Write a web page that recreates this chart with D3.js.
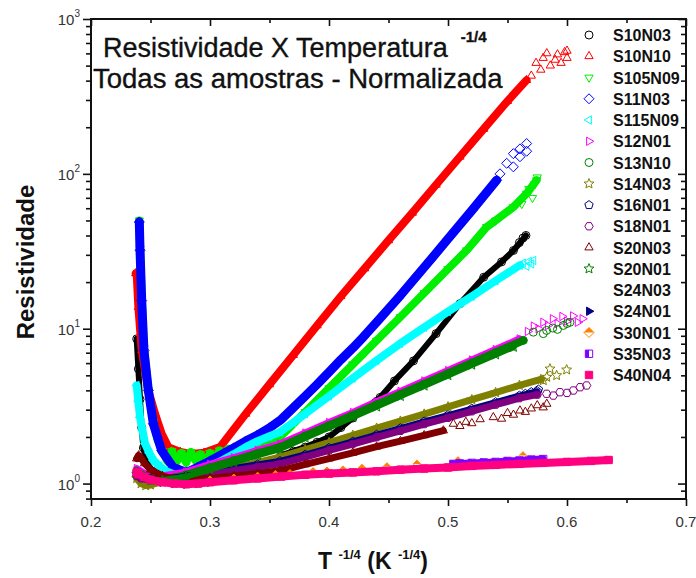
<!DOCTYPE html>
<html>
<head>
<meta charset="utf-8">
<script src="https://cdn.jsdelivr.net/npm/d3@7"></script>
<style>
  body { margin: 0; background: #fff; }
  svg { display: block; font-family: "Liberation Sans", Arial, sans-serif; }
</style>
</head>
<body>
<svg id="chart" width="696" height="578"></svg>
<script>
// ---- axis ticks ----
const xMajorTicks = [0.2, 0.3, 0.4, 0.5, 0.6, 0.7];
const xMinorTicks = [0.25, 0.35, 0.45, 0.55, 0.65];
const yMajorTicks = [1, 10, 100, 1000];
const yMinorTicks = [0.8, 0.9, 2, 3, 4, 5, 6, 7, 8, 9, 20, 30, 40, 50, 60, 70, 80, 90,
                     200, 300, 400, 500, 600, 700, 800, 900];

// ---- samples ----
const seriesNames = ["S10N03", "S10N10", "S105N09", "S11N03", "S115N09", "S12N01", "S13N10",
  "S14N03", "S16N01", "S18N01", "S20N03", "S20N01", "S24N03", "S24N01", "S30N01", "S35N03", "S40N04"];

// resistivity (normalised) vs T^-1/4 : continuous run of each sample
const s10n03 = [[0.2384,8.6],[0.2398,5.5],[0.2412,3.5],[0.2426,2.3],[0.244,1.7],[0.247,1.35],[0.252,1.2],
  [0.26,1.12],[0.27,1.08],[0.28,1.07],[0.29,1.08],[0.30,1.1],[0.31,1.13],[0.32,1.17],[0.33,1.22],[0.34,1.3],
  [0.35,1.4],[0.36,1.52],[0.37,1.62],[0.38,1.72],[0.39,1.85],[0.40,2.0],[0.41,2.3],[0.42,2.65],[0.43,3.05],
  [0.443,3.6],[0.455,4.6],[0.471,6.2],[0.49,9.3],[0.51,14.5],[0.53,21.5],[0.545,27],[0.555,32],[0.5655,40]];
const s10n10 = [[0.2376,22.8],[0.2384,22.7],[0.2398,13.8],[0.2426,7.24],[0.2482,3.99],[0.2538,2.82],
  [0.2594,2.1],[0.265,1.72],[0.275,1.6],[0.285,1.55],[0.295,1.58],[0.3084,1.72],[0.33,2.82],[0.35,4.37],
  [0.37,6.76],[0.39,10.5],[0.41,16.2],[0.43,24.5],[0.45,37.2],[0.47,56],[0.49,85],[0.51,129],[0.53,195],
  [0.55,295],[0.566,403]];
const s105n09 = [[0.2406,50],[0.2412,33],[0.2426,16],[0.2445,7.5],[0.2482,4.0],[0.2524,2.5],[0.256,1.9],
  [0.26,1.62],[0.264,1.4],[0.268,1.62],[0.272,1.38],[0.276,1.58],[0.28,1.36],[0.284,1.6],[0.288,1.4],
  [0.292,1.55],[0.296,1.34],[0.30,1.58],[0.304,1.42],[0.308,1.64],[0.312,1.46],[0.316,1.68],[0.32,1.52],
  [0.324,1.72],[0.328,1.6],[0.332,1.77],[0.337,1.7],[0.342,1.83],[0.347,1.86],[0.352,1.92],[0.3588,1.99],
  [0.37,2.43],[0.38,2.9],[0.40,4.13],[0.42,5.89],[0.44,8.39],[0.46,11.9],[0.48,17],[0.50,24.3],
  [0.5157,32.1],[0.5325,45.4],[0.54,50],[0.5549,61],[0.5661,74.6],[0.5745,91]];
const s11n03 = [[0.2406,48.9],[0.2412,32.1],[0.2426,15.2],[0.2445,7.24],[0.2482,3.99],[0.2524,2.43],
  [0.2594,1.63],[0.2692,1.27],[0.2804,1.18],[0.29,1.28],[0.30,1.4],[0.3112,1.56],[0.32,1.7],[0.33,1.88],
  [0.3392,2.04],[0.35,2.29],[0.36,2.6],[0.37,3.09],[0.38,3.67],[0.39,4.37],[0.40,5.25],[0.41,6.31],
  [0.42,7.5],[0.4288,8.83],[0.44,11.0],[0.46,16.4],[0.4849,27.6],[0.50,38],[0.52,58],[0.5409,91]];
const s115n09 = [[0.2384,4.3],[0.2398,3.4],[0.2412,2.68],[0.2433,2.2],[0.2454,1.81],[0.249,1.58],
  [0.2524,1.41],[0.2575,1.3],[0.2622,1.21],[0.272,1.13],[0.28,1.13],[0.29,1.19],[0.30,1.29],[0.31,1.41],
  [0.32,1.55],[0.33,1.72],[0.34,1.88],[0.35,2.02],[0.3588,2.15],[0.37,2.48],[0.38,2.82],[0.40,3.67],
  [0.42,4.79],[0.44,6.24],[0.46,8.04],[0.48,10.2],[0.50,12.9],[0.52,16.2],[0.54,20.4],[0.5605,25.7]];
const s12n01 = [[0.2384,1.25],[0.246,1.15],[0.26,1.12],[0.28,1.19],[0.30,1.33],[0.32,1.47],[0.34,1.64],
  [0.3588,1.8],[0.38,2.12],[0.40,2.48],[0.42,2.88],[0.44,3.38],[0.46,3.94],[0.48,4.6],[0.50,5.37],
  [0.52,6.28],[0.54,7.34],[0.56,8.6]];
const s13n10 = [[0.2384,1.2],[0.242,1.15],[0.246,1.1],[0.25,1.08],[0.26,1.07],[0.27,1.09],[0.28,1.14],
  [0.29,1.2],[0.30,1.27],[0.32,1.41],[0.34,1.57],[0.3588,1.72],[0.38,2.03],[0.40,2.37],[0.42,2.76],
  [0.44,3.23],[0.46,3.77],[0.48,4.4],[0.50,5.14],[0.52,6.01],[0.54,7.02],[0.5633,8.41]];
const s14n03 = [[0.2384,1.08],[0.242,1.0],[0.246,0.97],[0.25,0.98],[0.26,1.03],[0.28,1.1],[0.30,1.17],
  [0.32,1.26],[0.34,1.37],[0.3588,1.48],[0.38,1.66],[0.40,1.84],[0.42,2.05],[0.44,2.28],[0.46,2.53],
  [0.48,2.81],[0.50,3.13],[0.52,3.48],[0.54,3.87],[0.56,4.31],[0.578,4.7]];
const s16n01 = [[0.2384,1.15],[0.25,1.08],[0.26,1.08],[0.28,1.12],[0.30,1.19],[0.32,1.26],[0.34,1.33],
  [0.3588,1.4],[0.38,1.54],[0.40,1.7],[0.42,1.87],[0.44,2.07],[0.46,2.28],[0.48,2.52],[0.50,2.77],
  [0.52,3.05],[0.54,3.36],[0.56,3.7],[0.575,3.95]];
const s18n01 = [[0.2384,1.12],[0.242,1.08],[0.25,1.05],[0.26,1.04],[0.28,1.08],[0.30,1.14],[0.32,1.21],
  [0.34,1.28],[0.3588,1.34],[0.38,1.48],[0.40,1.64],[0.42,1.8],[0.44,1.99],[0.46,2.19],[0.48,2.42],
  [0.50,2.66],[0.52,2.93],[0.54,3.23],[0.56,3.56],[0.575,3.75]];
const s20n03 = [[0.2384,1.45],[0.24,1.52],[0.2425,1.45],[0.245,1.35],[0.25,1.23],[0.26,1.12],[0.27,1.07],
  [0.28,1.06],[0.30,1.08],[0.32,1.12],[0.34,1.16],[0.3588,1.21],[0.38,1.33],[0.40,1.45],[0.42,1.58],
  [0.44,1.73],[0.46,1.88],[0.48,2.05],[0.4961,2.2]];
const s20n01 = [[0.2384,1.15],[0.25,1.05],[0.26,1.05],[0.28,1.11],[0.30,1.23],[0.32,1.37],[0.34,1.52],
  [0.3588,1.67],[0.38,1.97],[0.40,2.3],[0.42,2.68],[0.44,3.13],[0.46,3.66],[0.48,4.27],[0.50,4.99],
  [0.52,5.83],[0.54,6.8],[0.555,7.6]];
const s24n03 = [];
const s24n01 = [[0.2384,1.18],[0.245,1.1],[0.25,1.06],[0.26,1.02],[0.27,1.0],[0.28,0.99],[0.29,1.0],[0.30,1.02]];
const s30n01 = [];
const s35n03 = [[0.5045,1.34],[0.51,1.35],[0.52,1.36],[0.53,1.37],[0.54,1.38],[0.55,1.4],[0.56,1.41],
  [0.57,1.43],[0.58,1.44]];
const s40n04 = [[0.2384,1.18],[0.24,1.15],[0.245,1.1],[0.25,1.06],[0.26,1.02],[0.27,1.0],[0.28,0.99],
  [0.29,1.0],[0.30,1.02],[0.32,1.05],[0.34,1.08],[0.36,1.11],[0.38,1.14],[0.40,1.16],[0.42,1.18],
  [0.44,1.2],[0.46,1.23],[0.48,1.25],[0.50,1.27],[0.52,1.3],[0.54,1.32],[0.56,1.34],[0.58,1.36],
  [0.60,1.38],[0.62,1.4],[0.635,1.42]];

// sparse points at the cold end of each run (plotted as symbols only)
const s10n03End = [[0.56,36],[0.563,38.5]];
const s10n10End = [[0.57,430],[0.574,520],[0.578,470],[0.58,560],[0.583,600],[0.586,500],[0.59,545],
  [0.592,590],[0.595,520],[0.598,610],[0.6,623],[0.6,560]];
const s105n09End = [[0.562,64],[0.568,80],[0.571,70],[0.573,86],[0.575,95]];
const s11n03End = [[0.5437,100],[0.5493,117],[0.5549,111],[0.5549,135],[0.5605,129],[0.5605,145],
  [0.5661,157],[0.5661,140]];
const s115n09End = [[0.563,26.5],[0.566,25.3],[0.568,27.2],[0.57,26.2],[0.5717,27.6]];
const s12n01End = [[0.567,9.6],[0.572,10.4],[0.576,10.0],[0.58,11.0],[0.584,10.5],[0.588,11.6],
  [0.592,10.8],[0.596,12.0],[0.6,11.2],[0.605,12.1],[0.609,11.0],[0.613,11.6]];
const s13n10End = [[0.5717,9.5],[0.5801,9.3],[0.5829,9.75],[0.588,10.1],[0.592,9.9],[0.5969,10.5],
  [0.6,10.8],[0.6025,11.0]];
const s14n03End = [[0.5801,4.63],[0.583,4.87],[0.5857,5.51],[0.5913,4.99],[0.5997,5.43]];
const s16n01End = [[0.565,3.8],[0.57,3.9],[0.576,4.05]];
const s18n01End = [[0.5829,3.8],[0.5885,3.7],[0.5941,3.89],[0.6,3.85],[0.6053,3.99],[0.611,4.19],[0.6165,4.3]];
const s20n03End = [[0.5045,2.43],[0.51,2.35],[0.515,2.5],[0.52,2.45],[0.527,2.6],[0.5381,2.68],[0.545,2.62],
  [0.55,2.85],[0.555,2.78],[0.5605,2.96],[0.565,2.9],[0.57,3.05],[0.575,3.2],[0.58,3.1],[0.583,3.27]];
const s30n01End = [[0.30,1.06],[0.32,1.09],[0.34,1.12],[0.355,1.15],[0.3672,1.166],[0.3866,1.2],
  [0.3983,1.21],[0.4118,1.23],[0.4277,1.26],[0.4487,1.29],[0.4739,1.34],[0.5084,1.41],[0.563,1.52]];

const seriesRuns = [s10n03, s10n10, s105n09, s11n03, s115n09, s12n01, s13n10, s14n03, s16n01, s18n01,
  s20n03, s20n01, s24n03, s24n01, s30n01, s35n03, s40n04];
const seriesEnds = [s10n03End, s10n10End, s105n09End, s11n03End, s115n09End, s12n01End, s13n10End,
  s14n03End, s16n01End, s18n01End, s20n03End, [], [], [], s30n01End, [], []];

// ---- styles ----
const seriesColors = ["#000000", "#ff0000", "#00ee00", "#0000ff", "#00ffff", "#ff00ff", "#007f00",
  "#808000", "#000080", "#800080", "#800000", "#008000", "#ffffff", "#000080", "#ff8000", "#8000ff", "#ff0080"];
const seriesSymbols = ["circle", "triUp", "triDown", "diamond", "triLeft", "triRight", "circle", "star",
  "pentagon", "hexagon", "triUp", "star", "none", "triRight", "diamond", "square", "square"];
const seriesFill = ["open", "open", "open", "open", "open", "open", "open", "open", "open", "open",
  "open", "open", "open", "solid", "half", "half", "solid"];
const bandWidth = [6, 8, 8, 9, 8, 7, 8, 7, 6, 7, 7, 6, 0, 6, 0, 7, 8];

// ---- layout ----
const svg = d3.select("#chart");
const plot = { left: 91, right: 686, top: 19, bottom: 499 };
const x = d3.scaleLinear().domain([0.2, 0.7]).range([plot.left, plot.right]);
const y = d3.scaleLog().domain([0.795, 1000]).range([plot.bottom, plot.top]);

svg.append("rect").attr("width", 696).attr("height", 578).attr("fill", "#fff");

// ---- symbol shapes ----
function polyPath(n, r, rot) {
  const pts = d3.range(n).map(i => {
    const a = rot + i * 2 * Math.PI / n;
    return [r * Math.cos(a), r * Math.sin(a)];
  });
  return "M" + pts.map(p => p[0].toFixed(2) + "," + p[1].toFixed(2)).join("L") + "Z";
}
function starPath(r) {
  const pts = d3.range(10).map(i => {
    const a = -Math.PI / 2 + i * Math.PI / 5;
    const rr = i % 2 ? r * 0.45 : r;
    return [rr * Math.cos(a), rr * Math.sin(a)];
  });
  return "M" + pts.map(p => p[0].toFixed(2) + "," + p[1].toFixed(2)).join("L") + "Z";
}
const shapes = {
  circle: r => d3.symbol(d3.symbolCircle, Math.PI * r * r)(),
  triUp: r => polyPath(3, r * 1.2, -Math.PI / 2),
  triDown: r => polyPath(3, r * 1.2, Math.PI / 2),
  triLeft: r => polyPath(3, r * 1.2, Math.PI),
  triRight: r => polyPath(3, r * 1.2, 0),
  diamond: r => polyPath(4, r * 1.25, -Math.PI / 2),
  square: r => polyPath(4, r * 1.3, Math.PI / 4),
  pentagon: r => polyPath(5, r * 1.1, -Math.PI / 2),
  hexagon: r => polyPath(6, r * 1.05, 0),
  star: r => starPath(r * 1.3)
};
const halfShapes = {
  diamond: r => { const a = r * 1.25; return `M${-a},0L0,${-a}L${a},0Z`; },
  square: r => { const s = r * 0.92; return `M${-s},${-s}L0,${-s}L0,${s}L${-s},${s}Z`; }
};

function drawMarker(g, i, cx, cy, r) {
  const type = seriesSymbols[i];
  if (type === "none") return;
  const col = seriesColors[i];
  const mode = seriesFill[i];
  const m = g.append("g").attr("transform", `translate(${cx},${cy})`);
  m.append("path").attr("d", shapes[type](r))
    .attr("fill", mode === "solid" ? col : "none")
    .attr("stroke", col).attr("stroke-width", 1);
  if (mode === "half") {
    m.append("path").attr("d", halfShapes[type](r)).attr("fill", col).attr("stroke", "none");
  }
}

// ---- data ----
svg.append("clipPath").attr("id", "plotClip").append("rect")
  .attr("x", plot.left).attr("y", plot.top)
  .attr("width", plot.right - plot.left).attr("height", plot.bottom - plot.top);
const dataLayer = svg.append("g").attr("clip-path", "url(#plotClip)");
const line = d3.line().x(d => x(d[0])).y(d => y(d[1]));

seriesNames.forEach((name, i) => {
  const g = dataLayer.append("g").attr("class", "series-" + name);
  const run = seriesRuns[i];
  if (run.length && bandWidth[i] > 0) {
    g.append("path").datum(run).attr("d", line)
      .attr("fill", "none").attr("stroke", seriesColors[i])
      .attr("stroke-width", bandWidth[i])
      .attr("stroke-linejoin", "round").attr("stroke-linecap", "round");
  }
  run.forEach(d => drawMarker(g, i, x(d[0]), y(d[1]), 4));
  seriesEnds[i].forEach(d => drawMarker(g, i, x(d[0]), y(d[1]), i === 14 ? 3 : 4));
});

// ---- axes ----
function styleAxis(sel) {
  sel.select(".domain").remove();
  sel.selectAll(".tick line").attr("stroke", "#111").attr("stroke-width", 1.6);
  sel.selectAll(".tick text").remove();
}
// bottom and left ticks point outward; top and right ticks point into the frame
const axisG = svg.append("g").attr("class", "axes");
axisG.append("g").attr("transform", `translate(0,${plot.bottom})`)
  .call(d3.axisBottom(x).tickValues(xMajorTicks).tickSize(7)).call(styleAxis);
axisG.append("g").attr("transform", `translate(0,${plot.bottom})`)
  .call(d3.axisBottom(x).tickValues(xMinorTicks).tickSize(4)).call(styleAxis);
axisG.append("g").attr("transform", `translate(0,${plot.top})`)
  .call(d3.axisTop(x).tickValues(xMajorTicks).tickSize(-7)).call(styleAxis);
axisG.append("g").attr("transform", `translate(0,${plot.top})`)
  .call(d3.axisTop(x).tickValues(xMinorTicks).tickSize(-4)).call(styleAxis);
axisG.append("g").attr("transform", `translate(${plot.left},0)`)
  .call(d3.axisLeft(y).tickValues(yMajorTicks).tickSize(8)).call(styleAxis);
axisG.append("g").attr("transform", `translate(${plot.left},0)`)
  .call(d3.axisLeft(y).tickValues(yMinorTicks).tickSize(5)).call(styleAxis);
axisG.append("g").attr("transform", `translate(${plot.right},0)`)
  .call(d3.axisRight(y).tickValues(yMajorTicks).tickSize(-8)).call(styleAxis);
axisG.append("g").attr("transform", `translate(${plot.right},0)`)
  .call(d3.axisRight(y).tickValues(yMinorTicks).tickSize(-5)).call(styleAxis);

svg.append("rect").attr("x", plot.left).attr("y", plot.top)
  .attr("width", plot.right - plot.left).attr("height", plot.bottom - plot.top)
  .attr("fill", "none").attr("stroke", "#111").attr("stroke-width", 2);

// tick labels
const xLab = svg.append("g").attr("font-size", 15).attr("fill", "#333").attr("text-anchor", "middle");
xMajorTicks.forEach(t => {
  xLab.append("text").attr("x", x(t)).attr("y", plot.bottom + 28).text(d3.format(".1f")(t));
});
const yLab = svg.append("g").attr("font-size", 15).attr("fill", "#333").attr("text-anchor", "end");
yMajorTicks.forEach(t => {
  const txt = yLab.append("text").attr("x", plot.left - 11).attr("y", y(t) + 6);
  txt.append("tspan").text("10");
  txt.append("tspan").attr("dy", -8).attr("font-size", 10).text(Math.round(Math.log10(t)));
});

// axis titles
svg.append("text")
  .attr("transform", `translate(34,262) rotate(-90)`)
  .attr("text-anchor", "middle").attr("font-size", 24).attr("font-weight", "bold").attr("fill", "#111")
  .text("Resistividade");
const xt = svg.append("text").attr("x", 373).attr("y", 569).attr("text-anchor", "middle")
  .attr("font-size", 23).attr("font-weight", "bold").attr("fill", "#111");
xt.append("tspan").text("T ");
xt.append("tspan").attr("dy", -10).attr("font-size", 13).text("-1/4");
xt.append("tspan").attr("dy", 10).text(" (K ");
xt.append("tspan").attr("dy", -10).attr("font-size", 13).text("-1/4");
xt.append("tspan").attr("dy", 10).text(")");

// chart title
const t1 = svg.append("text").attr("x", 103).attr("y", 57).attr("font-size", 27).attr("fill", "#111")
  .attr("stroke", "#111").attr("stroke-width", 0.35);
t1.append("tspan").text("Resistividade X Temperatura");
t1.append("tspan").attr("dx", 13).attr("dy", -15).attr("font-size", 15).attr("font-weight", "bold").text("-1/4");
svg.append("text").attr("x", 93).attr("y", 88).attr("font-size", 27.5).attr("fill", "#111")
  .attr("stroke", "#111").attr("stroke-width", 0.35)
  .text("Todas as amostras - Normalizada");

// legend
const leg = svg.append("g");
seriesNames.forEach((name, i) => {
  const ly = 35 + i * 21.25;
  drawMarker(leg, i, 589, ly, 4);
  leg.append("text").attr("x", 613).attr("y", ly + 6).attr("font-size", 16)
    .attr("font-weight", "bold").attr("fill", "#111").text(name);
});
</script>
</body>
</html>
